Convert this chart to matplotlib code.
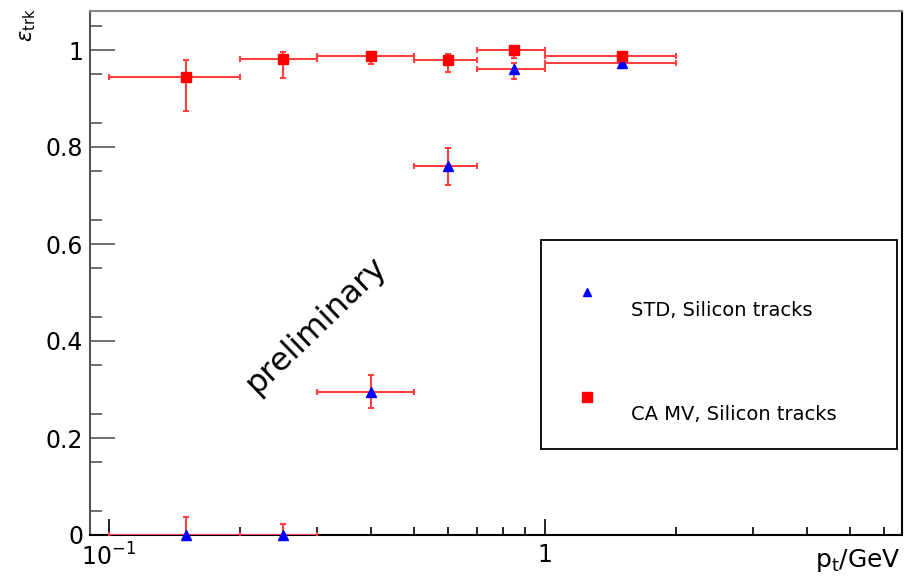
import matplotlib
matplotlib.use("Agg")
import matplotlib.pyplot as plt
from matplotlib.lines import Line2D
from matplotlib.patches import Rectangle
from matplotlib.ticker import FixedLocator, NullFormatter
import numpy as np

plt.rcParams['font.family'] = ['DejaVu Sans']
plt.rcParams['mathtext.fontset'] = 'dejavusans'

# ---- data ----
pt_center = [0.15, 0.25, 0.4, 0.6, 0.85, 1.5]
pt_low = [0.1, 0.2, 0.3, 0.5, 0.7, 1.0]
pt_high = [0.2, 0.3, 0.5, 0.7, 1.0, 2.0]

std_eff = [0.0, 0.0, 0.295, 0.761, 0.960, 0.974]
std_err_lo = [0.0, 0.0, 0.033, 0.039, 0.020, 0.012]
std_err_hi = [0.037, 0.023, 0.035, 0.037, 0.014, 0.004]

ca_eff = [0.944, 0.981, 0.988, 0.979, 1.0, 0.988]
ca_err_lo = [0.070, 0.039, 0.017, 0.025, 0.016, 0.005]
ca_err_hi = [0.035, 0.015, 0.006, 0.013, 0.0, 0.004]

x_major = [0.1, 1.0]
x_major_labels = [r'$10^{-1}$', '1']
x_minor = [0.2, 0.3, 0.4, 0.5, 0.6, 0.7, 0.8, 0.9, 2, 3, 4, 5, 6]
y_major = [0, 0.2, 0.4, 0.6, 0.8, 1.0]
y_major_labels = ['0', '0.2', '0.4', '0.6', '0.8', '1']

W, H = 914, 584
fig = plt.figure(figsize=(W / 100, H / 100), dpi=100)
ax = fig.add_axes([90 / W, 1 - 535 / H, (902 - 90) / W, (535 - 10.5) / H])

x = np.array(pt_center)
xerr = [x - np.array(pt_low), np.array(pt_high) - x]

err_col = '#ff4040'
c1 = ax.errorbar(x, std_eff, xerr=xerr, yerr=[std_err_lo, std_err_hi], fmt='^',
                 color='blue', ms=6.5, ecolor=err_col, elinewidth=1.5, capsize=2.5,
                 capthick=1.5, zorder=3)
c2 = ax.errorbar(x, ca_eff, xerr=xerr, yerr=[ca_err_lo, ca_err_hi], fmt='s',
                 color='red', ms=6.5, ecolor=err_col, elinewidth=1.5, capsize=2.5,
                 capthick=1.5, zorder=4)
c1[0].set_clip_on(False)

ax.set_xscale('log')
ax.set_xlim(10 ** (-1 - 19 / 436), 10 ** ((902 - 545) / 436))
ax.set_ylim(0, (535 - 10.5) / 485)

ax.xaxis.set_major_locator(FixedLocator(x_major))
ax.set_xticklabels(x_major_labels)
ax.xaxis.set_minor_locator(FixedLocator(x_minor))
ax.xaxis.set_minor_formatter(NullFormatter())
ax.set_yticks(y_major)
ax.set_yticklabels(y_major_labels)
ax.yaxis.set_minor_locator(FixedLocator(np.arange(0.05, 1.08, 0.1)))

ax.tick_params(axis='x', which='major', direction='in', length=11.5, width=1.2,
               labelsize=17, pad=6, top=False, color='black')
ax.tick_params(axis='x', which='minor', direction='in', length=5.8, width=1.2,
               top=False, color='black')
ax.tick_params(axis='y', which='major', direction='in', length=18, width=1.2,
               labelsize=17, pad=5, right=False, color='#555555')
ax.tick_params(axis='y', which='minor', direction='in', length=8.6, width=1.2,
               right=False, color='#555555')

ax.spines['left'].set_color('#555555')
ax.spines['top'].set_color('#888888')
ax.spines['right'].set_color('black')
ax.spines['bottom'].set_color('black')
for s in ax.spines.values():
    s.set_linewidth(1.5)

# axis titles
fig.text(901 / W, 1 - 567 / H, r'p$_{\mathrm{t}}$/GeV', ha='right', va='baseline', fontsize=18)
fig.text(28 / W, 1 - 25 / H, r'$\varepsilon_{\mathrm{trk}}$', ha='center', va='center',
         rotation=90, fontsize=15)

# preliminary
fig.text(316 / W, 1 - 326 / H, 'preliminary', ha='center', va='center', rotation=44,
         rotation_mode='anchor', fontsize=23)

# legend box
fig.add_artist(Rectangle((541 / W, 1 - 449 / H), (897 - 541) / W, (449 - 240) / H,
                         transform=fig.transFigure, fill=False, edgecolor='black', lw=1.3))
fig.add_artist(Line2D([587 / W], [1 - 292 / H], transform=fig.transFigure, marker='^',
                      color='blue', ms=6, ls='none'))
fig.add_artist(Line2D([587 / W], [1 - 397 / H], transform=fig.transFigure, marker='s',
                      color='red', ms=7, ls='none'))
fig.text(631 / W, 1 - 310 / H, 'STD, Silicon tracks', ha='left', va='center', fontsize=14)
fig.text(631 / W, 1 - 415 / H, 'CA MV, Silicon tracks', ha='left', va='center', fontsize=14)

fig.savefig('out.png', dpi=100)
